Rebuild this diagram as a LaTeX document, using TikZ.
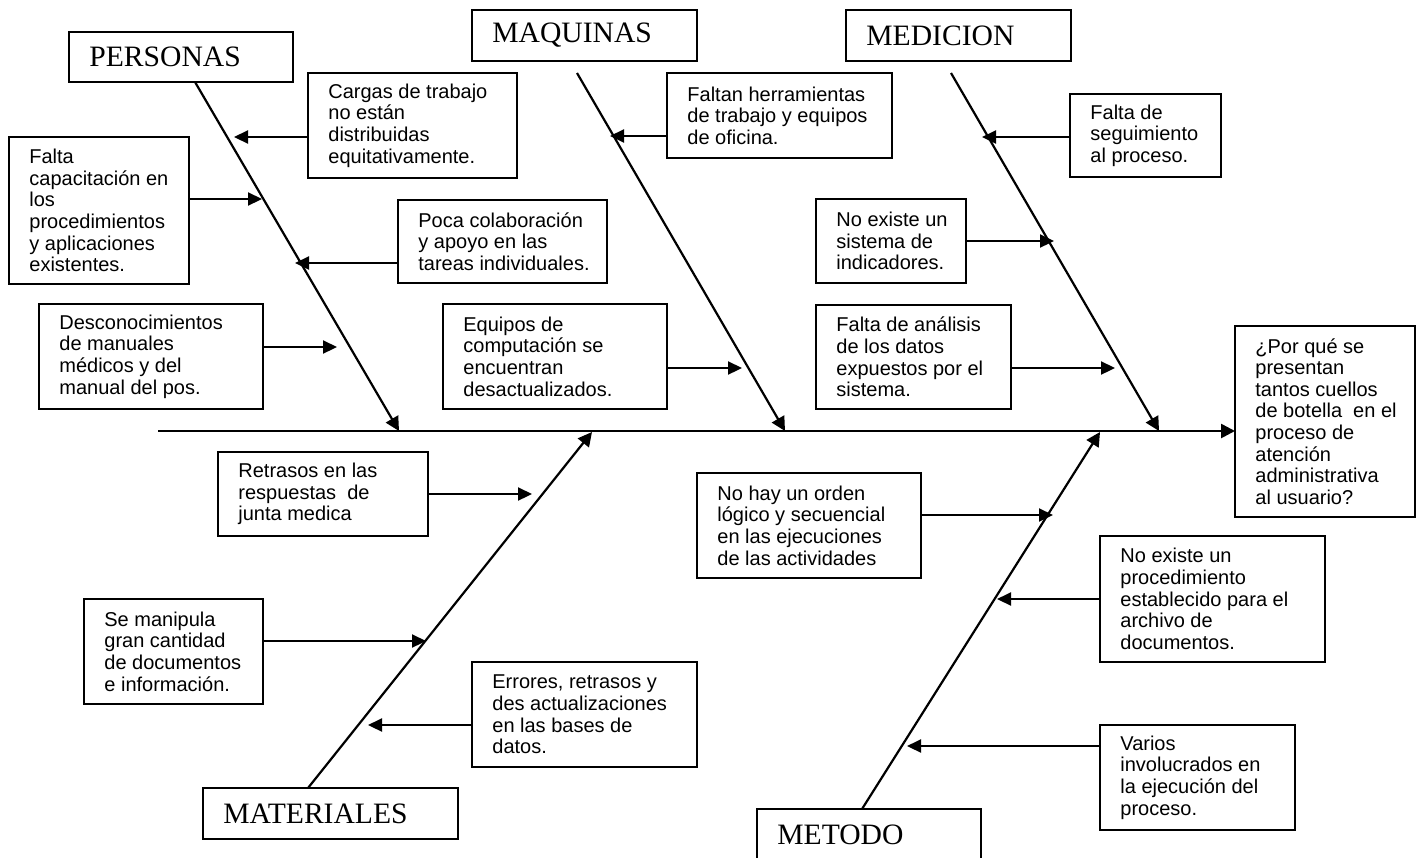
\documentclass[tikz,border=0pt]{standalone}
\usepackage{fontspec}
\setmainfont{Liberation Serif}
\setsansfont{Liberation Sans}
\usetikzlibrary{arrows.meta}
\begin{document}
\begin{tikzpicture}[x=0.5pt,y=-0.5pt,
  frame/.style={draw, line width=0.9pt, anchor=north west, inner sep=0pt, outer sep=0pt},
  sz/.style 2 args={minimum width={#1*0.5pt}, minimum height={#2*0.5pt}},
  cause/.style={anchor=west, align=left, inner sep=0pt, xshift=10pt,
    font=\sffamily\fontsize{10}{10.8}\selectfont},
  title/.style={anchor=west, inner sep=0pt, xshift=10pt,
    font=\rmfamily\fontsize{14.8}{17}\selectfont},
  bone/.style={line width=1.1pt, -{Triangle[length=7pt,width=7pt]}},
  spine/.style={line width=1.3pt, -{Triangle[length=7pt,width=7pt]}},
  twig/.style={line width=1.1pt, -{Triangle[length=7pt,width=6.5pt]}}]
\useasboundingbox (0,0) rectangle (1422,857);

% category headers
\node[frame, sz={224}{50}] (pers) at (69,32) {};
\node[title] (pers-t) at (pers.west) {PERSONAS};
\node[frame, sz={225}{51}] (maq) at (472,10) {};
\node[title] (maq-t) at (maq.west) {MAQUINAS};
\node[frame, sz={225}{51}] (med) at (846,10) {};
\node[title] (med-t) at (med.west) {MEDICION};
\node[frame, sz={255}{51}] (mat) at (203,788) {};
\node[title] (mat-t) at (mat.west) {MATERIALES};
\node[frame, sz={224}{51}] (met) at (757,809) {};
\node[title] (met-t) at (met.west) {METODO};

% effect
\node[frame, sz={180}{191}] (q) at (1235,326) {};
\node[cause] (q-t) at (q.west) {¿Por qué se\\presentan\\tantos cuellos\\de botella~ en el\\proceso de\\atención\\administrativa\\al usuario?};

% causes
\node[frame, sz={209}{105}] (cargas) at (308,73) {};
\node[cause] (cargas-t) at (cargas.west) {Cargas de trabajo\\no están\\distribuidas\\equitativamente.};
\node[frame, sz={180}{147}] (capac) at (9,137) {};
\node[cause] (capac-t) at (capac.west) {Falta\\capacitación en\\los\\procedimientos\\y aplicaciones\\existentes.};
\node[frame, sz={209}{83}] (poca) at (398,200) {};
\node[cause] (poca-t) at (poca.west) {Poca colaboración\\y apoyo en las\\tareas individuales.};
\node[frame, sz={224}{105}] (descon) at (39,304) {};
\node[cause] (descon-t) at (descon.west) {Desconocimientos\\de manuales\\médicos y del\\manual del pos.};
\node[frame, sz={225}{85}] (faltan) at (667,73) {};
\node[cause] (faltan-t) at (faltan.west) {Faltan herramientas\\de trabajo y equipos\\de oficina.};
\node[frame, sz={224}{105}] (equipos) at (443,304) {};
\node[cause] (equipos-t) at (equipos.west) {Equipos de\\computación se\\encuentran\\desactualizados.};
\node[frame, sz={151}{83}] (segui) at (1070,94) {};
\node[cause] (segui-t) at (segui.west) {Falta de\\seguimiento\\al proceso.};
\node[frame, sz={150}{84}] (indic) at (816,199) {};
\node[cause] (indic-t) at (indic.west) {No existe un\\sistema de\\indicadores.};
\node[frame, sz={195}{104}] (anal) at (816,305) {};
\node[cause] (anal-t) at (anal.west) {Falta de análisis\\de los datos\\expuestos por el\\sistema.};
\node[frame, sz={210}{84}] (retr) at (218,452) {};
\node[cause] (retr-t) at (retr.west) {Retrasos en las\\respuestas~ de\\junta medica};
\node[frame, sz={179}{105}] (manip) at (84,599) {};
\node[cause] (manip-t) at (manip.west) {Se manipula\\gran cantidad\\de documentos\\e información.};
\node[frame, sz={225}{105}] (err) at (472,662) {};
\node[cause] (err-t) at (err.west) {Errores, retrasos y\\des actualizaciones\\en las bases de\\datos.};
\node[frame, sz={224}{105}] (orden) at (697,473) {};
\node[cause] (orden-t) at (orden.west) {No hay un orden\\lógico y secuencial\\en las ejecuciones\\de las actividades};
\node[frame, sz={225}{126}] (proc) at (1100,536) {};
\node[cause] (proc-t) at (proc.west) {No existe un\\procedimiento\\establecido para el\\archivo de\\documentos.};
\node[frame, sz={195}{105}] (varios) at (1100,725) {};
\node[cause] (varios-t) at (varios.west) {Varios\\involucrados en\\la ejecución del\\proceso.};

% spine and main bones
\coordinate (sp) at (158,431);
\draw[spine] (sp) -- (sp -| q.west);

\coordinate (persA) at (195,82);  \coordinate (persZ) at (399,431);
\coordinate (maqA) at (577,73);   \coordinate (maqZ) at (785,431);
\coordinate (medA) at (951,73);   \coordinate (medZ) at (1159,431);
\coordinate (matA) at (308,788);  \coordinate (matZ) at (592,432);
\coordinate (metA) at (862,809);  \coordinate (metZ) at (1100,432);
\draw[bone] (persA) -- (persZ);
\draw[bone] (maqA) -- (maqZ);
\draw[bone] (medA) -- (medZ);
\draw[bone] (matA) -- (matZ);
\draw[bone] (metA) -- (metZ);

% cause arrows onto the bones
\coordinate (t1) at (234,137);
\coordinate (t2) at (262,199);
\coordinate (t3) at (295,263);
\coordinate (t4) at (337,347);
\coordinate (t5) at (610,136);
\coordinate (t6) at (742,368);
\coordinate (t7) at (982,137);
\coordinate (t8) at (1054,241);
\coordinate (t9) at (1115,368);
\coordinate (t10) at (532,494);
\coordinate (t11) at (426,641);
\coordinate (t12) at (368,725);
\coordinate (t13) at (1053,515);
\coordinate (t14) at (997,599);
\coordinate (t15) at (907,746);
\draw[twig] (cargas.west |- t1) -- (t1);
\draw[twig] (capac.east |- t2) -- (t2);
\draw[twig] (poca.west |- t3) -- (t3);
\draw[twig] (descon.east |- t4) -- (t4);
\draw[twig] (faltan.west |- t5) -- (t5);
\draw[twig] (equipos.east |- t6) -- (t6);
\draw[twig] (segui.west |- t7) -- (t7);
\draw[twig] (indic.east |- t8) -- (t8);
\draw[twig] (anal.east |- t9) -- (t9);
\draw[twig] (retr.east |- t10) -- (t10);
\draw[twig] (manip.east |- t11) -- (t11);
\draw[twig] (err.west |- t12) -- (t12);
\draw[twig] (orden.east |- t13) -- (t13);
\draw[twig] (proc.west |- t14) -- (t14);
\draw[twig] (varios.west |- t15) -- (t15);
\end{tikzpicture}
\end{document}
